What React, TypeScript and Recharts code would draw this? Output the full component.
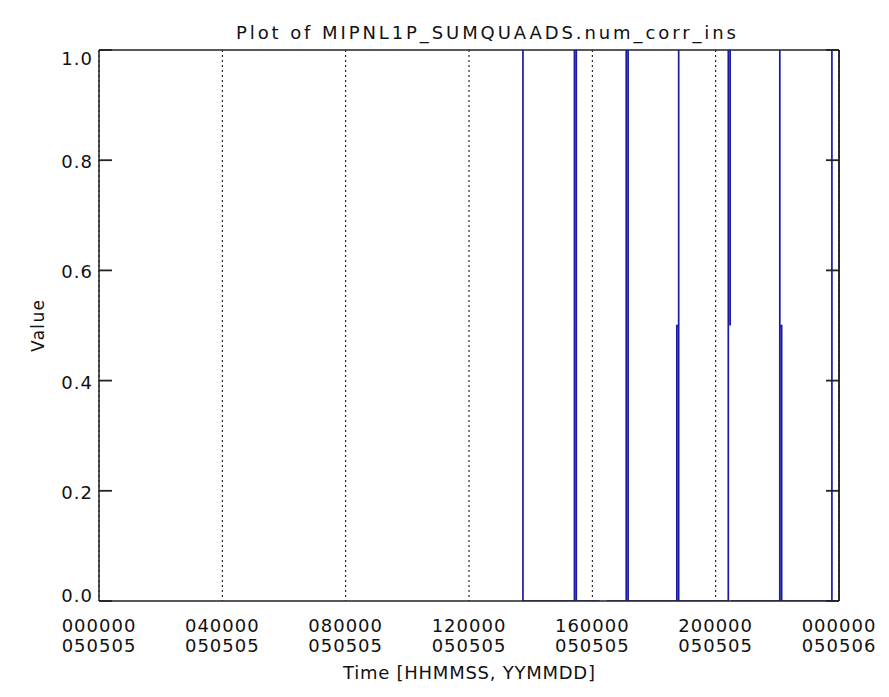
import { CartesianGrid, Line, LineChart, ReferenceLine, XAxis, YAxis } from "recharts";

// time in hours since 000000 050505, value of num_corr_ins
const times = [
  13.75, 13.75,
  15.42, 15.42, 15.48, 15.48,
  16.24, 16.3, 16.47,
  17.1, 17.1, 17.16, 17.16,
  18.74, 18.74, 18.8, 18.8, 18.8,
  20.41, 20.41, 20.47, 20.47, 20.48, 20.49,
  22.08, 22.08, 22.08, 22.14, 22.14,
  23.77, 23.77,
];
const values = [
  1, 0,
  0, 1, 1, 0,
  0, null, 0,
  0, 1, 1, 0,
  0, 0.5, 0.5, 1, 0,
  0, 1, 1, 0.5, null, 0,
  0, 1, 0.5, 0.5, 0,
  0, 1,
];

const xTicks = [0, 4, 8, 12, 16, 20, 24];
const xTickTime = ["000000", "040000", "080000", "120000", "160000", "200000", "000000"];
const xTickDate = ["050505", "050505", "050505", "050505", "050505", "050505", "050506"];
const yTicks = [0, 0.2, 0.4, 0.6, 0.8, 1.0];

const data = times.map((t, i) => ({ t, v: values[i] }));

const FONT = "'DejaVu Sans', sans-serif";
const INK = "#111";
const FRAME = "#222";
const BLUE = "#1a1aa2";
const PLOT_LEFT = 99;
const PLOT_RIGHT = 839;
const TICK_LEN_H = 0.42; // inward tick length, in hours on the x scale

const LeftTick = (props: any) => {
  const { y, payload } = props;
  // labels at the ends are pushed inside the range
  let dy = 8;
  if (payload.value === 1) dy = 15;
  if (payload.value === 0) dy = 1;
  return (
    <text x={PLOT_LEFT - 6} y={y + dy} textAnchor="end" fontFamily={FONT} fontSize={18} letterSpacing={1} fill={INK}>
      {payload.value.toFixed(1)}
    </text>
  );
};

// inward tick marks on the right side of the frame
const RightTick = (props: any) => {
  const { y } = props;
  return <path d={`M${PLOT_RIGHT - 13},${y}H${PLOT_RIGHT}`} stroke={FRAME} strokeWidth={1.8} fill="none" />;
};

const BottomTick = (props: any) => {
  const { x, y, payload } = props;
  const i = xTicks.indexOf(payload.value);
  return (
    <g fontFamily={FONT} fontSize={18} letterSpacing={1} fill={INK}>
      <text x={x} y={y + 31} textAnchor="middle">{xTickTime[i]}</text>
      <text x={x} y={y + 51} textAnchor="middle">{xTickDate[i]}</text>
    </g>
  );
};

export default function App() {
  return (
    <div style={{ position: "absolute", left: 0, top: 0, width: 889, height: 697, background: "#fff" }}>
      <LineChart
        width={889}
        height={697}
        data={data}
        margin={{ top: 50, right: 40, bottom: 36, left: 39 }}
      >
        <CartesianGrid horizontal={false} stroke="#000" strokeDasharray="2 3" />
        <XAxis
          type="number"
          dataKey="t"
          domain={[0, 24]}
          ticks={xTicks}
          height={60}
          tickSize={0}
          tickMargin={0}
          tickLine={false}
          axisLine={{ stroke: FRAME, strokeWidth: 1.5 }}
          tick={<BottomTick />}
          allowDataOverflow
        />
        <YAxis
          yAxisId="left"
          domain={[0, 1]}
          ticks={yTicks}
          width={60}
          tickSize={0}
          tickMargin={7}
          tickLine={false}
          axisLine={{ stroke: FRAME, strokeWidth: 1.5 }}
          tick={<LeftTick />}
          allowDataOverflow
        />
        <YAxis
          yAxisId="right"
          orientation="right"
          domain={[0, 1]}
          ticks={yTicks}
          width={10}
          tickSize={0}
          tickMargin={0}
          tickLine={false}
          axisLine={{ stroke: FRAME, strokeWidth: 1.5 }}
          tick={<RightTick />}
          allowDataOverflow
        />
        {yTicks.map((v) => (
          <ReferenceLine
            key={v}
            yAxisId="left"
            segment={[{ x: 0, y: v }, { x: TICK_LEN_H, y: v }]}
            stroke={FRAME}
            strokeWidth={1.8}
          />
        ))}
        <ReferenceLine yAxisId="left" y={1} stroke={FRAME} strokeWidth={1.5} />
        <ReferenceLine yAxisId="left" x={24} stroke={FRAME} strokeWidth={1.5} />
        <Line
          yAxisId="left"
          type="linear"
          dataKey="v"
          stroke={BLUE}
          strokeWidth={1.7}
          dot={false}
          connectNulls={false}
          isAnimationActive={false}
        />
      </LineChart>
      <svg
        width={889}
        height={697}
        style={{ position: "absolute", left: 0, top: 0, pointerEvents: "none" }}
        fontFamily={FONT}
        fill={INK}
      >
        <text x={486} y={39} textAnchor="middle" fontSize={18} textLength={500} lengthAdjust="spacing">
          Plot of MIPNL1P_SUMQUAADS.num_corr_ins
        </text>
        <text x={469} y={679} textAnchor="middle" fontSize={18} textLength={252} lengthAdjust="spacing">
          Time [HHMMSS, YYMMDD]
        </text>
        <text
          x={0}
          y={0}
          transform="translate(44 326) rotate(-90)"
          textAnchor="middle"
          fontSize={17}
          textLength={52}
          lengthAdjust="spacing"
        >
          Value
        </text>
      </svg>
    </div>
  );
}
